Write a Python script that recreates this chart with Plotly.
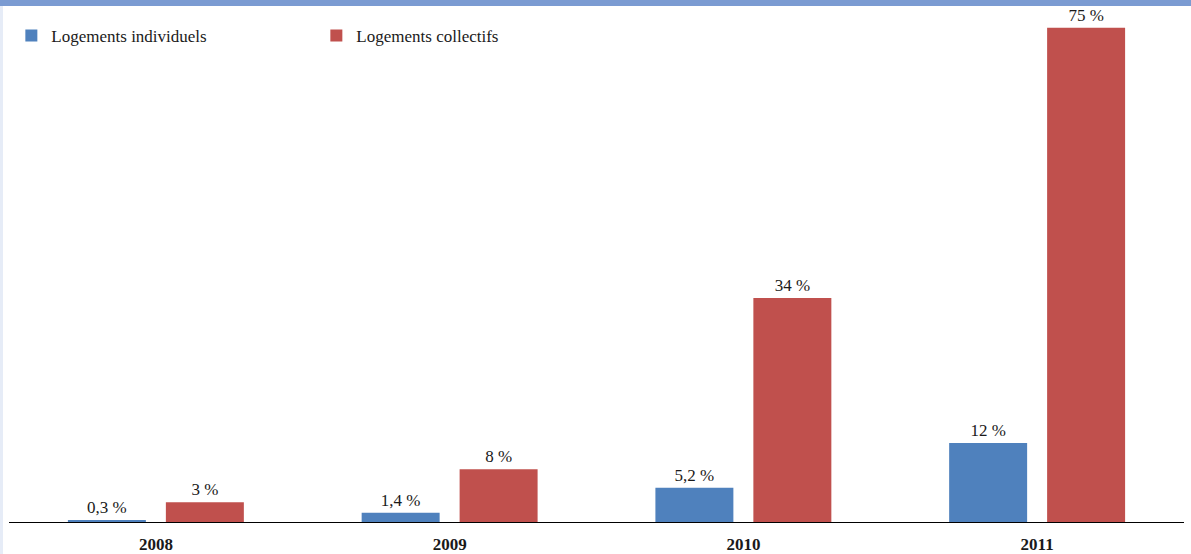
import plotly.graph_objects as go

# data
years = ["2008", "2009", "2010", "2011"]
individuels = [0.3, 1.4, 5.2, 12]
collectifs = [3, 8, 34, 75]
individuels_labels = ["0,3 %", "1,4 %", "5,2 %", "12 %"]
collectifs_labels = ["3 %", "8 %", "34 %", "75 %"]

BLUE = "#4f81bd"
RED = "#c0504d"
SERIF = "Liberation Serif, Times New Roman, serif"

fig = go.Figure()
fig.add_trace(
    go.Bar(
        x=years,
        y=individuels,
        name="Logements individuels",
        marker=dict(color=BLUE, line=dict(width=0)),
        text=individuels_labels,
        textposition="outside",
        textfont=dict(family=SERIF, size=17, color="#1a1a1a"),
        cliponaxis=False,
    )
)
fig.add_trace(
    go.Bar(
        x=years,
        y=collectifs,
        name="Logements collectifs",
        marker=dict(color=RED, line=dict(width=0)),
        text=collectifs_labels,
        textposition="outside",
        textfont=dict(family=SERIF, size=17, color="#1a1a1a"),
        cliponaxis=False,
    )
)

# decorative frame: blue strip on top, pale strip on the left
fig.add_shape(type="rect", xref="paper", yref="paper",
              x0=-0.01, x1=1.01, y0=1 + 4 / 512, y1=1 + 10 / 512,
              fillcolor="#7b9bd2", line=dict(width=0), layer="above")
fig.add_shape(type="rect", xref="paper", yref="paper",
              x0=-9 / 1175, x1=-6 / 1175, y0=-42 / 512, y1=1 + 4 / 512,
              fillcolor="#e6ecf7", line=dict(width=0))

fig.update_layout(
    width=1191,
    height=554,
    margin=dict(l=9, r=7, t=10, b=32),
    paper_bgcolor="white",
    plot_bgcolor="white",
    barmode="group",
    bargap=0.333,
    bargroupgap=0.204,
    showlegend=True,
    legend=dict(
        orientation="h",
        x=0.002,
        y=1 - 8 / 512,
        xanchor="left",
        yanchor="top",
        entrywidth=260,
        font=dict(family=SERIF, size=17, color="#1a1a1a"),
        bgcolor="rgba(0,0,0,0)",
    ),
    xaxis=dict(
        showline=True,
        linecolor="black",
        linewidth=1,
        ticks="",
        showgrid=False,
        automargin=False,
        tickfont=dict(family=SERIF, size=17, color="#1a1a1a", weight="bold"),
        ticklabelstandoff=7,
    ),
    yaxis=dict(
        range=[0, 77.7],
        visible=False,
        showgrid=False,
        zeroline=False,
    ),
)

# the page body has a default 8px margin; remove it so the figure fills the window
fig.write_html(
    "out.html",
    config={"displayModeBar": False},
    post_script="document.body.style.margin='0';",
)
